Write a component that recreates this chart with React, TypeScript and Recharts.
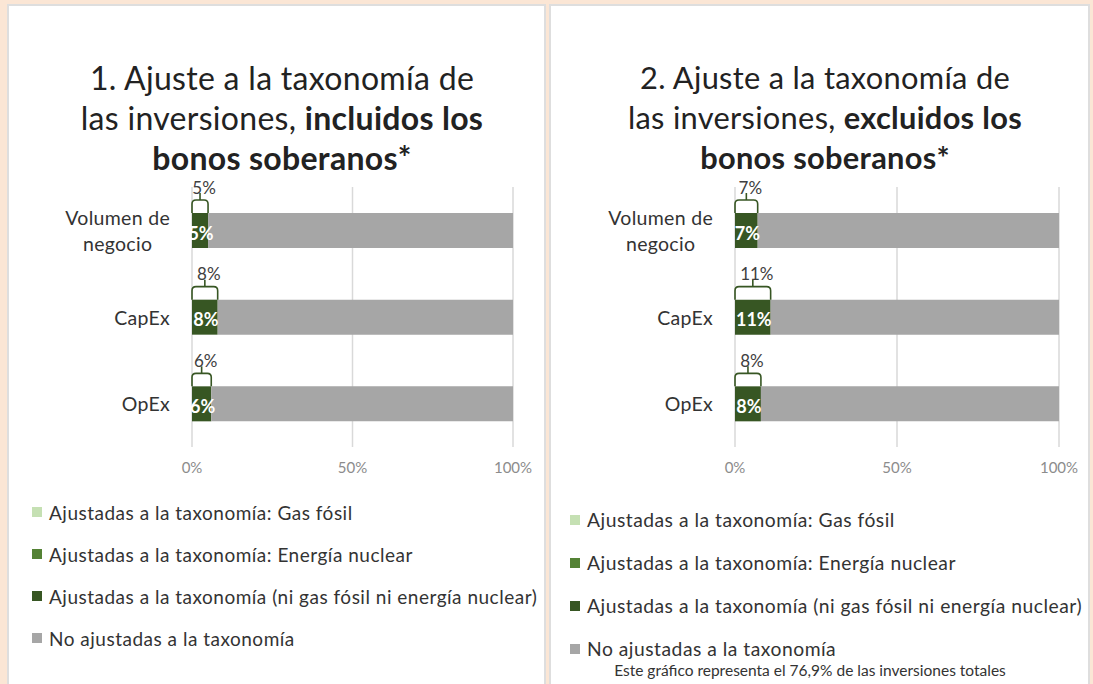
import React from 'react'
import { BarChart, Bar, XAxis, YAxis, CartesianGrid, LabelList } from 'recharts'

const FONT = 'Lato, "Open Sans", sans-serif'

const categories = ['Volumen de negocio', 'CapEx', 'OpEx']
const categoryLines: Record<string, string[]> = {
  'Volumen de negocio': ['Volumen de', 'negocio'],
  CapEx: ['CapEx'],
  OpEx: ['OpEx'],
}

// 1. incluidos los bonos soberanos
const gasIncl = [0, 0, 0]
const nuclearIncl = [0, 0, 0]
const alignedIncl = [5, 8, 6]
const notAlignedIncl = [95, 92, 94]

// 2. excluidos los bonos soberanos
const gasExcl = [0, 0, 0]
const nuclearExcl = [0, 0, 0]
const alignedExcl = [7, 11, 8]
const notAlignedExcl = [93, 89, 92]

const xTicks = [0, 50, 100]

const seriesNames = [
  'Ajustadas a la taxonomía: Gas fósil',
  'Ajustadas a la taxonomía: Energía nuclear',
  'Ajustadas a la taxonomía (ni gas fósil ni energía nuclear)',
  'No ajustadas a la taxonomía',
]
const seriesKeys = ['gas', 'nuclear', 'aligned', 'notAligned']
const seriesColors = ['#c5e0b3', '#548235', '#375623', '#a6a6a6']

const buildRows = (gas: number[], nuclear: number[], aligned: number[], notAligned: number[]) =>
  categories.map((name, i) => ({
    name,
    gas: gas[i],
    nuclear: nuclear[i],
    aligned: aligned[i],
    notAligned: notAligned[i],
  }))

const dataIncl = buildRows(gasIncl, nuclearIncl, alignedIncl, notAlignedIncl)
const dataExcl = buildRows(gasExcl, nuclearExcl, alignedExcl, notAlignedExcl)

const TICK_SIZE = 19.5
const TICK_SPACING = 0.3

let ctx: CanvasRenderingContext2D | null = null
function textWidth(s: string) {
  if (!ctx) ctx = document.createElement('canvas').getContext('2d')
  if (!ctx) return s.length * TICK_SIZE * 0.5
  ctx.font = `${TICK_SIZE}px ${FONT}`
  return ctx.measureText(s).width + s.length * TICK_SPACING
}

// multi-line category labels: block right-aligned, lines centred within it
function CategoryTick(props: any) {
  const { x, y, payload } = props
  const lines = categoryLines[payload.value] ?? [payload.value]
  const lh = 26
  const w = Math.max(...lines.map(textWidth))
  return (
    <g>
      {lines.map((l, i) => (
        <text
          key={i}
          x={x - w / 2}
          y={y + (i - (lines.length - 1) / 2) * lh}
          textAnchor="middle"
          dominantBaseline="central"
          fill="#333"
          fontSize={TICK_SIZE}
          letterSpacing={TICK_SPACING}
          fontFamily={FONT}
        >
          {l}
        </text>
      ))}
    </g>
  )
}

// callout above the bar + white value inside it
function AlignedLabel(props: any) {
  const { x, y, width, height, value } = props
  const cx = x + width / 2
  const top = y - 13
  const r = 4
  const d = `M ${x} ${y} L ${x} ${top + r} Q ${x} ${top} ${x + r} ${top} L ${x + width - r} ${top} Q ${x + width} ${top} ${x + width} ${top + r} L ${x + width} ${y}`
  return (
    <g>
      <path d={d} fill="none" stroke="#375623" strokeWidth={1.6} />
      <line x1={cx} y1={top} x2={cx} y2={y - 20} stroke="#375623" strokeWidth={1.6} />
      <text x={cx + 4} y={y - 26} textAnchor="middle" dominantBaseline="central" fill="#404040" fontSize={17} fontFamily={FONT}>
        {`${value}%`}
      </text>
      <text x={cx + 1} y={y + height / 2 + 2} textAnchor="middle" dominantBaseline="central" fill="#fff" fontSize={18} fontWeight="bold" fontFamily={FONT}>
        {`${value}%`}
      </text>
    </g>
  )
}

function Panel({ data, width, yWidth, right }: { data: any[]; width: number; yWidth: number; right: number }) {
  return (
    <BarChart
      width={width}
      height={310}
      data={data}
      layout="vertical"
      barSize={35}
      margin={{ top: 17, right, bottom: 3, left: 0 }}
    >
      <CartesianGrid horizontal={false} stroke="#d9d9d9" strokeWidth={1.5} />
      <XAxis
        type="number"
        domain={[0, 100]}
        ticks={xTicks}
        tickFormatter={(v) => `${v}%`}
        axisLine={false}
        tickLine={false}
        height={30}
        tickMargin={9}
        tick={{ fill: '#8c8c8c', fontSize: 15, fontFamily: FONT }}
      />
      <YAxis
        type="category"
        dataKey="name"
        width={yWidth}
        axisLine={false}
        tickLine={false}
        tickMargin={16}
        tick={<CategoryTick />}
      />
      {seriesKeys.map((k, i) => (
        <Bar key={k} dataKey={k} stackId="a" fill={seriesColors[i]} isAnimationActive={false}>
          {k === 'aligned' && <LabelList dataKey="aligned" content={<AlignedLabel />} />}
        </Bar>
      ))}
    </BarChart>
  )
}

function Legend({ left, top, gap, fontSize }: { left: number; top: number; gap: number; fontSize: number }) {
  return (
    <div style={{ position: 'absolute', left, top, fontFamily: FONT, fontSize, letterSpacing: 0.5, color: '#333' }}>
      {seriesNames.map((n, i) => (
        <div key={n} style={{ height: gap, display: 'flex', alignItems: 'center', whiteSpace: 'nowrap' }}>
          <span style={{ width: 10, height: 10, background: seriesColors[i], marginRight: 7, display: 'inline-block', flex: 'none' }} />
          {n}
        </div>
      ))}
    </div>
  )
}

const titleLine: React.CSSProperties = {
  position: 'absolute',
  width: 520,
  textAlign: 'center',
  fontFamily: FONT,
  letterSpacing: 0.3,
  lineHeight: '26px',
  color: '#222',
  whiteSpace: 'nowrap',
}

function Title({ left, num, word, size }: { left: number; num: string; word: string; size: number }) {
  const s = { ...titleLine, left, fontSize: size }
  return (
    <>
      <div style={{ ...s, top: 65 }}>{num}. Ajuste a la taxonomía de</div>
      <div style={{ ...s, top: 105 }}>
        las inversiones, <b>{word} los</b>
      </div>
      <div style={{ ...s, top: 145 }}>
        <b>bonos soberanos*</b>
      </div>
    </>
  )
}

export default function App() {
  return (
    <div style={{ position: 'absolute', left: 0, top: 0, width: 1093, height: 684, background: '#fbe6d5', overflow: 'hidden' }}>
      <div style={{ position: 'absolute', left: 7, top: 4, width: 535, height: 690, background: '#fff', border: '2px solid #dedede' }} />
      <div style={{ position: 'absolute', left: 549, top: 4, width: 537, height: 690, background: '#fff', border: '2px solid #dedede' }} />

      <Title left={22} num="1" word="incluidos" size={32} />
      <Title left={565} num="2" word="excluidos" size={30.8} />

      <div style={{ position: 'absolute', left: 0, top: 170 }}>
        <Panel data={dataIncl} width={545} yWidth={192} right={32} />
      </div>
      <div style={{ position: 'absolute', left: 549, top: 170 }}>
        <Panel data={dataExcl} width={544} yWidth={186} right={34} />
      </div>

      <Legend left={32} top={491} gap={42} fontSize={19} />
      <Legend left={570} top={498} gap={43} fontSize={19.3} />

      <div style={{ position: 'absolute', left: 560, width: 500, top: 661, textAlign: 'center', fontFamily: FONT, fontSize: 15.5, color: '#333' }}>
        Este gráfico representa el 76,9% de las inversiones totales
      </div>
    </div>
  )
}
